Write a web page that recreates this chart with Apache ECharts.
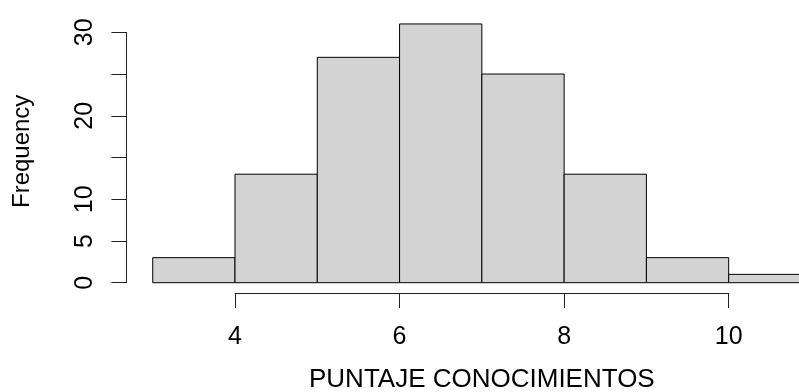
<!DOCTYPE html>
<html>
<head>
<meta charset="utf-8">
<script src="https://cdn.jsdelivr.net/npm/echarts@6/dist/echarts.min.js"></script>
<style>
  html, body { margin: 0; padding: 0; background: #fff; }
  #chart { width: 799px; height: 392px; }
</style>
</head>
<body>
<div id="chart"></div>
<script>
// Histogram of knowledge scores (bins of width 1)
const breaks = [3, 4, 5, 6, 7, 8, 9, 10, 11];
const counts = [3, 13, 27, 31, 25, 13, 3, 1];
const yTickLabels = [0, 5, 10, 20, 30];
const xTickValues = [4, 6, 8, 10];
const xTitle = 'PUNTAJE CONOCIMIENTOS';
const yTitle = 'Frequency';

const FONT = "'Liberation Sans', Arial, Helvetica, sans-serif";
const FS = 25;
const FS_XNAME = 26;
const FS_YNAME = 24;
const INK = '#000';
const AXIS = '#222';

const bins = counts.map((c, i) => [breaks[i], breaks[i + 1], c]);

// plotting region spans the data range padded by 4% on each side
const xPad = (breaks[breaks.length - 1] - breaks[0]) * 0.04;
const yMaxData = Math.max(...counts);
const yPad = yMaxData * 0.04;

const chart = echarts.init(document.getElementById('chart'), null, { renderer: 'canvas' });

chart.setOption({
  animation: false,
  backgroundColor: '#fff',
  grid: [
    // main plotting region
    { left: 126.4, top: 13.6, width: 710.9, height: 279.45, outerBoundsMode: 'none', containLabel: false },
    // y axis drawn only over its tick range
    { left: 126.4, top: 32.3, width: 10, height: 250.4, outerBoundsMode: 'none', containLabel: false },
    // x axis drawn only over its tick range
    { left: 235, top: 280, width: 493.7, height: 13.05, outerBoundsMode: 'none', containLabel: false }
  ],
  xAxis: [
    {
      gridIndex: 0, type: 'value',
      min: breaks[0] - xPad, max: breaks[breaks.length - 1] + xPad,
      axisLine: { show: false }, axisTick: { show: false }, axisLabel: { show: false }, splitLine: { show: false },
      name: xTitle, nameLocation: 'middle', nameGap: 74,
      nameTextStyle: { fontFamily: FONT, fontSize: FS_XNAME, color: INK }
    },
    {
      gridIndex: 1, type: 'value', min: 0, max: 1, show: false
    },
    {
      gridIndex: 2, type: 'value', position: 'bottom',
      min: xTickValues[0], max: xTickValues[xTickValues.length - 1], interval: 2,
      axisLine: { show: true, lineStyle: { color: AXIS, width: 1 } },
      axisTick: { show: true, inside: false, length: 15, lineStyle: { color: AXIS, width: 1 } },
      axisLabel: {
        show: true, margin: 32, fontFamily: FONT, fontSize: FS, color: INK,
        showMinLabel: true, showMaxLabel: true,
        formatter: v => (xTickValues.includes(v) ? String(v) : '')
      },
      splitLine: { show: false }
    }
  ],
  yAxis: [
    {
      gridIndex: 0, type: 'value',
      min: -yPad, max: yMaxData + yPad,
      axisLine: { show: false }, axisTick: { show: false }, axisLabel: { show: false }, splitLine: { show: false },
      name: yTitle, nameLocation: 'middle', nameGap: 92, nameRotate: 90,
      nameTextStyle: { fontFamily: FONT, fontSize: FS_YNAME, color: INK, padding: [0, 0, 0, 4] }
    },
    {
      gridIndex: 1, type: 'value', position: 'left',
      min: 0, max: 30, interval: 5,
      axisLine: { show: true, lineStyle: { color: AXIS, width: 1 } },
      axisTick: { show: true, inside: false, length: 15, lineStyle: { color: AXIS, width: 1 } },
      axisLabel: {
        show: true, rotate: 90, margin: 29, fontFamily: FONT, fontSize: FS, color: INK,
        showMinLabel: true, showMaxLabel: true,
        formatter: v => (yTickLabels.includes(v) ? String(v) : '')
      },
      splitLine: { show: false }
    },
    {
      gridIndex: 2, type: 'value', min: 0, max: 1, show: false
    }
  ],
  series: [
    {
      type: 'custom',
      xAxisIndex: 0, yAxisIndex: 0,
      clip: false,
      data: bins,
      encode: { x: [0, 1], y: 2 },
      renderItem: function (params, api) {
        const p0 = api.coord([api.value(0), api.value(2)]);
        const p1 = api.coord([api.value(1), 0]);
        return {
          type: 'rect',
          shape: { x: p0[0], y: p0[1], width: p1[0] - p0[0], height: p1[1] - p0[1] },
          style: { fill: '#d3d3d3', stroke: '#000', lineWidth: 1 }
        };
      }
    }
  ]
});
</script>
</body>
</html>
